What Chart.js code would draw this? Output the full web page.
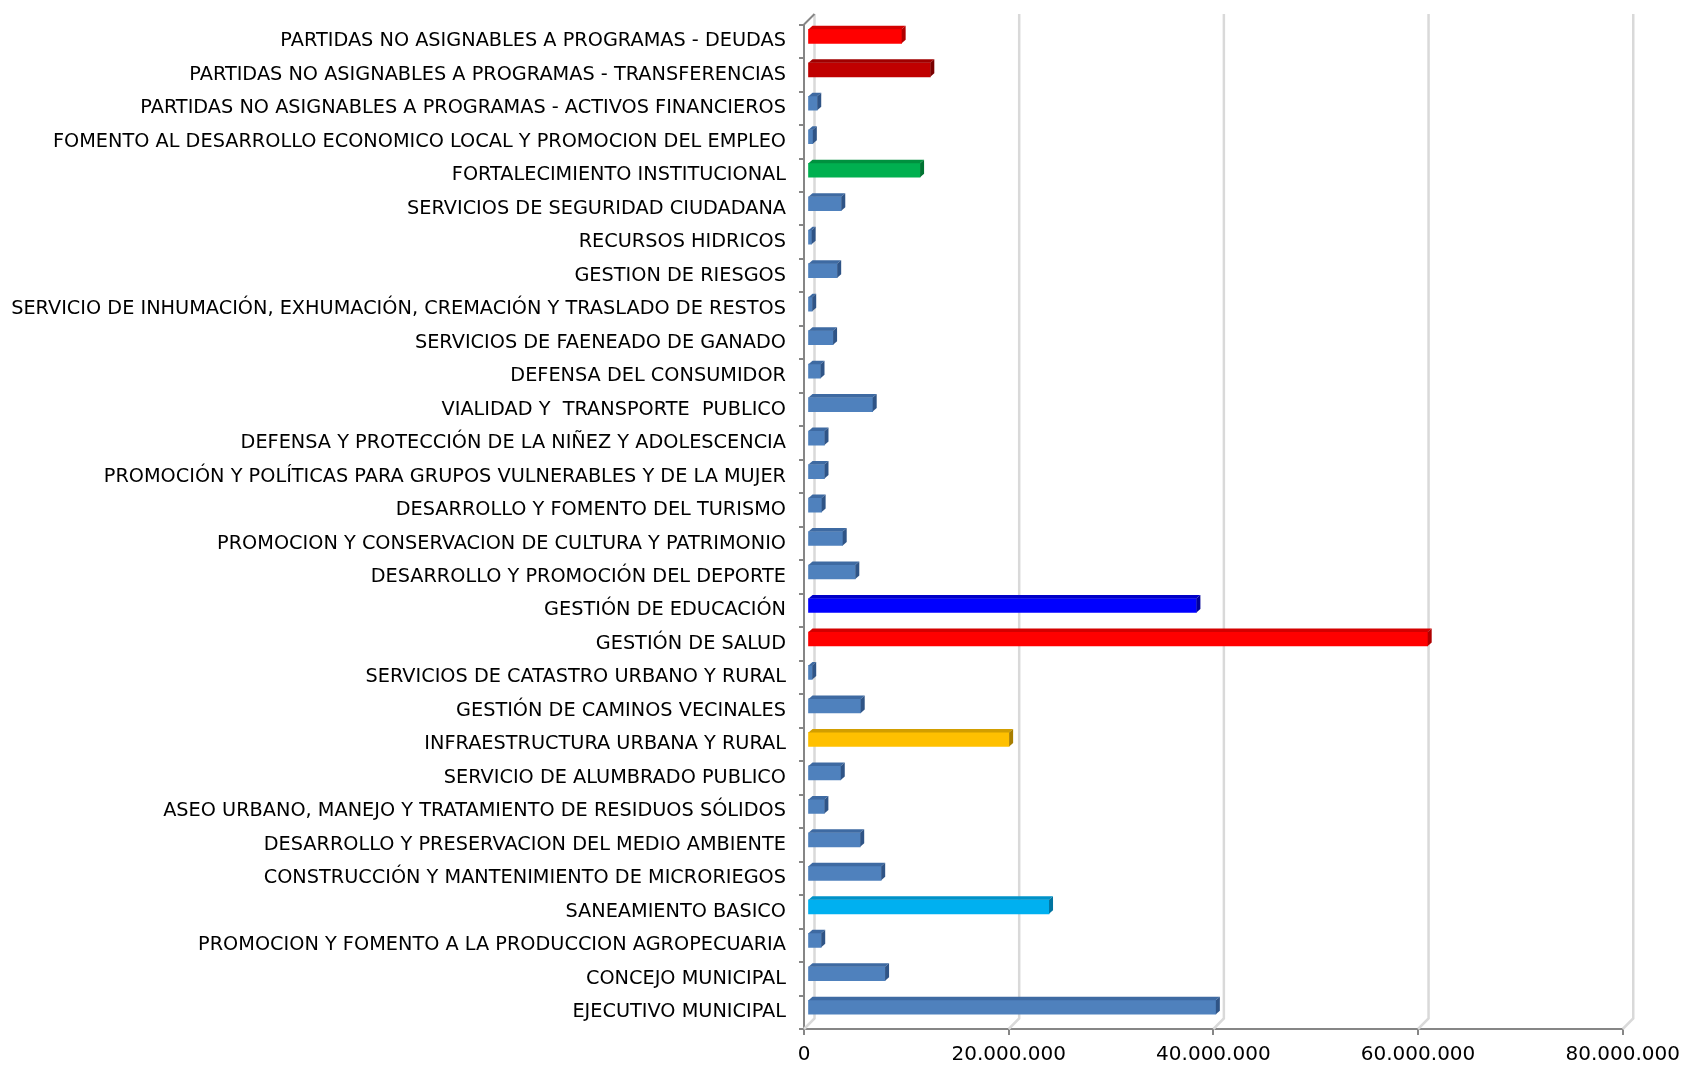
<!DOCTYPE html>
<html>
<head>
<meta charset="utf-8">
<script src="https://cdn.jsdelivr.net/npm/chart.js@4/dist/chart.umd.min.js"></script>
<style>
html,body{margin:0;padding:0;background:#ffffff;}
#wrap{width:1688px;height:1068px;position:relative;}
</style>
</head>
<body>
<div id="wrap"><canvas id="c"></canvas></div>
<script>
// ---- DATA ----
const categories = [
  "PARTIDAS NO ASIGNABLES A PROGRAMAS - DEUDAS",
  "PARTIDAS NO ASIGNABLES A PROGRAMAS - TRANSFERENCIAS",
  "PARTIDAS NO ASIGNABLES A PROGRAMAS - ACTIVOS FINANCIEROS",
  "FOMENTO AL DESARROLLO ECONOMICO LOCAL Y PROMOCION DEL EMPLEO",
  "FORTALECIMIENTO INSTITUCIONAL",
  "SERVICIOS DE SEGURIDAD CIUDADANA",
  "RECURSOS HIDRICOS",
  "GESTION DE RIESGOS",
  "SERVICIO DE INHUMACIÓN, EXHUMACIÓN, CREMACIÓN Y TRASLADO DE RESTOS",
  "SERVICIOS DE FAENEADO DE GANADO",
  "DEFENSA DEL CONSUMIDOR",
  "VIALIDAD Y  TRANSPORTE  PUBLICO",
  "DEFENSA Y PROTECCIÓN DE LA NIÑEZ Y ADOLESCENCIA",
  "PROMOCIÓN Y POLÍTICAS PARA GRUPOS VULNERABLES Y DE LA MUJER",
  "DESARROLLO Y FOMENTO DEL TURISMO",
  "PROMOCION Y CONSERVACION DE CULTURA Y PATRIMONIO",
  "DESARROLLO Y PROMOCIÓN DEL DEPORTE",
  "GESTIÓN DE EDUCACIÓN",
  "GESTIÓN DE SALUD",
  "SERVICIOS DE CATASTRO URBANO Y RURAL",
  "GESTIÓN DE CAMINOS VECINALES",
  "INFRAESTRUCTURA URBANA Y RURAL",
  "SERVICIO DE ALUMBRADO PUBLICO",
  "ASEO URBANO, MANEJO Y TRATAMIENTO DE RESIDUOS SÓLIDOS",
  "DESARROLLO Y PRESERVACION DEL MEDIO AMBIENTE",
  "CONSTRUCCIÓN Y MANTENIMIENTO DE MICRORIEGOS",
  "SANEAMIENTO BASICO",
  "PROMOCION Y FOMENTO A LA PRODUCCION AGROPECUARIA",
  "CONCEJO MUNICIPAL",
  "EJECUTIVO MUNICIPAL"
];
const values = [
  9200000, 12000000, 950000, 520000, 11000000,
  3300000, 400000, 2900000, 460000, 2500000,
  1270000, 6370000, 1660000, 1660000, 1380000,
  3440000, 4670000, 38000000, 60600000, 460000,
  5200000, 19700000, 3250000, 1650000, 5150000,
  7200000, 23600000, 1340000, 7580000, 39900000
];
const tickValues = [0, 20000000, 40000000, 60000000, 80000000];

// ---- STYLE ----
const palette = {
  blue:   {front:'#4F81BD', top:'#3E6AA2', side:'#2F5486'},
  red:    {front:'#FF0000', top:'#D40000', side:'#B00000'},
  dred:   {front:'#C00000', top:'#A00000', side:'#7A0000'},
  green:  {front:'#00B050', top:'#00913F', side:'#007332'},
  royal:  {front:'#0000FF', top:'#0000C8', side:'#00009A'},
  gold:   {front:'#FFC000', top:'#D29E00', side:'#A87E00'},
  cyan:   {front:'#00B0F0', top:'#0092C8', side:'#0074A0'}
};
const highlight = {
  "PARTIDAS NO ASIGNABLES A PROGRAMAS - DEUDAS": 'red',
  "PARTIDAS NO ASIGNABLES A PROGRAMAS - TRANSFERENCIAS": 'dred',
  "FORTALECIMIENTO INSTITUCIONAL": 'green',
  "GESTIÓN DE EDUCACIÓN": 'royal',
  "GESTIÓN DE SALUD": 'red',
  "INFRAESTRUCTURA URBANA Y RURAL": 'gold',
  "SANEAMIENTO BASICO": 'cyan'
};
const colorOf = i => palette[highlight[categories[i]] || 'blue'];

const BAR_DX = 3.5, BAR_DY = -5;     // bar body offset (mid-depth)
const DEP_X = 4, DEP_Y = -3.5;       // bar 3D depth
const WALL_X = 10.5, WALL_Y = -10.5; // back wall offset

function fmt(v){ return String(v).replace(/\B(?=(\d{3})+(?!\d))/g, '.'); }

const threeD = {
  id: 'threeD',
  beforeDatasetsDraw(chart){
    const {ctx, chartArea:a, scales:{x}} = chart;
    ctx.save();
    ctx.strokeStyle = '#D9D9D9';
    ctx.lineWidth = 2.5;
    tickValues.forEach(v => {
      const px = x.getPixelForValue(v);
      ctx.beginPath();
      ctx.moveTo(px, a.bottom);
      ctx.lineTo(px + WALL_X, a.bottom + WALL_Y);
      ctx.lineTo(px + WALL_X, a.top + WALL_Y);
      ctx.stroke();
    });
    ctx.restore();
  },
  beforeDatasetDraw(chart){
    chart.ctx.save();
    chart.ctx.translate(BAR_DX, BAR_DY);
  },
  afterDatasetDraw(chart, args){
    const ctx = chart.ctx;
    const meta = args.meta;
    meta.data.forEach((el, i) => {
      const p = el.getProps(['x','y','base','height'], true);
      const c = colorOf(i);
      const l = Math.min(p.base, p.x), r = Math.max(p.base, p.x);
      const t = p.y - p.height/2, b = p.y + p.height/2;
      ctx.fillStyle = c.top;
      ctx.beginPath();
      ctx.moveTo(l, t); ctx.lineTo(r, t);
      ctx.lineTo(r + DEP_X, t + DEP_Y); ctx.lineTo(l + DEP_X, t + DEP_Y);
      ctx.closePath(); ctx.fill();
      ctx.fillStyle = c.side;
      ctx.beginPath();
      ctx.moveTo(r, t); ctx.lineTo(r + DEP_X, t + DEP_Y);
      ctx.lineTo(r + DEP_X, b + DEP_Y); ctx.lineTo(r, b);
      ctx.closePath(); ctx.fill();
    });
    ctx.restore();
  },
  afterDraw(chart){
    const {ctx, chartArea:a} = chart;
    ctx.save();
    ctx.strokeStyle = '#868686';
    ctx.lineWidth = 2;
    ctx.beginPath();
    ctx.moveTo(a.left, a.top);
    ctx.lineTo(a.left + WALL_X, a.top + WALL_Y);
    ctx.stroke();
    ctx.restore();
  }
};

new Chart(document.getElementById('c'), {
  type: 'bar',
  data: {
    labels: categories,
    datasets: [{
      data: values,
      backgroundColor: categories.map((_, i) => colorOf(i).front),
      borderWidth: 0,
      barThickness: 14
    }]
  },
  options: {
    indexAxis: 'y',
    responsive: true,
    maintainAspectRatio: false,
    animation: false,
    layout: { padding: { top: 24, right: 62, bottom: 0, left: 0 } },
    plugins: { legend: { display: false }, tooltip: { enabled: false } },
    scales: {
      x: {
        type: 'linear',
        min: 0, max: 80000000,
        afterBuildTicks(s){ s.ticks = tickValues.map(v => ({value: v})); },
        ticks: {
          callback: v => fmt(v),
          font: { family: 'DejaVu Sans', size: 20 },
          color: '#000000',
          padding: 8,
          maxRotation: 0
        },
        grid: { drawOnChartArea: false, tickLength: 6, color: '#868686', lineWidth: 2 },
        border: { display: true, color: '#868686', width: 2 },
        afterFit(s){ s.height = 39; }
      },
      y: {
        type: 'category',
        ticks: {
          font: { family: 'DejaVu Sans', size: 19.3 },
          color: '#000000',
          padding: 13,
          autoSkip: false
        },
        grid: { drawOnChartArea: false, tickLength: 5, color: '#868686', lineWidth: 2, offset: true },
        border: { display: true, color: '#868686', width: 2 },
        afterFit(s){ s.width = 804; }
      }
    }
  },
  plugins: [threeD]
});
</script>
</body>
</html>
